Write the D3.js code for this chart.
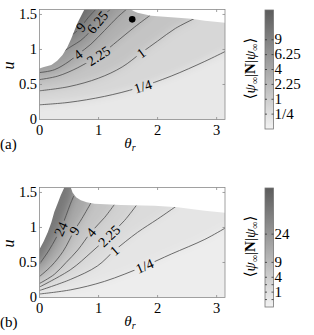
<!DOCTYPE html>
<html>
<head>
<meta charset="utf-8">
<script src="https://d3js.org/d3.v7.min.js"></script>
<style>
  body { margin: 0; background: #fff; }
</style>
</head>
<body>
<div id="chart"></div>
<script>
// axes ticks (shared)
const xTicks = [0, 1, 2, 3];
const yTicks = [0, 0.5, 1, 1.5];

// panel (a): contour levels and lines, points are [theta_r, u]
const levelsA = [0.25, 1, 2.25, 4, 6.25, 9];
const levelLabelsA = ["1/4", "1", "2.25", "4", "6.25", "9"];
const contoursA = [
  [[0, .21], [.5, .245], [1.1, .33], [1.66, .45], [2.23, .62], [2.8, .83], [3.1416, .97]],
  [[0, .41], [.5, .47], [1.0, .59], [1.4, .75], [1.72, .95], [2.0, 1.12], [2.3, 1.3], [2.62, 1.44]],
  [[0, .57], [.31, .62], [.65, .74], [.9, .86], [1.07, .95], [1.32, 1.12], [1.61, 1.32], [1.87, 1.485]],
  [[0, .67], [.25, .71], [.5, .83], [.65, .93], [.87, 1.075], [1.1, 1.27], [1.32, 1.46], [1.47, 1.571]],
  [[.42, .98], [.55, 1.05], [.70, 1.13], [.85, 1.25], [.98, 1.39], [1.1, 1.5], [1.2, 1.571]],
  [[.55, 1.21], [.63, 1.26], [.70, 1.32], [.82, 1.45], [.95, 1.571]]
];
const labelThetaA = [1.75, 1.72, 1.0, 0.65, 0.98, 0.70];
const domainA = [[0, 0], [0, .73], [.06, .745], [.2, .78], [.3, .84], [.39, .92], [.47, 1.03], [.54, 1.16],
  [.6, 1.29], [.65, 1.39], [.71, 1.49], [.76, 1.571], [1.55, 1.571], [1.6, 1.545], [1.66, 1.525],
  [1.89, 1.48], [2.23, 1.46], [2.57, 1.44], [2.8, 1.41], [3.1416, 1.38], [3.1416, 0]];
const dotA = [[1.57, 1.43]];
const cbMaxA = 16;
const cbTicksA = [0.25, 1, 2.25, 4, 6.25, 9];
const cbLabelsA = ["1/4", "1", "2.25", "4", "6.25", "9"];

// panel (b)
const levelsB = [0.25, 1, 2.25, 4, 9, 24];
const levelLabelsB = ["1/4", "1", "2.25", "4", "9", "24"];
const contoursB = [
  [[0, .05], [.53, .11], [1.1, .23], [1.78, .45], [2.23, .62], [2.8, .83], [3.1416, .99]],
  [[0, .10], [.53, .26], [.98, .45], [1.27, .67], [1.66, .93], [2.0, 1.12], [2.31, 1.30]],
  [[0, .15], [.53, .40], [.87, .64], [1.18, .88], [1.44, 1.10], [1.64, 1.315]],
  [[0, .20], [.25, .33], [.45, .50], [.65, .68], [.87, .93], [1.1, 1.14], [1.27, 1.33]],
  [[0, .30], [.2, .45], [.4, .66], [.59, .955], [.72, 1.13], [.87, 1.35]],
  [[0, .48], [.15, .66], [.28, .85], [.36, .98], [.45, 1.17], [.52, 1.33], [.58, 1.45]]
];
const labelThetaB = [1.78, 1.27, 1.18, 0.87, 0.59, 0.36];
const domainB = [[0, 0], [0, .69], [.07, .8], [.14, .93], [.2, 1.07], [.25, 1.22], [.31, 1.35], [.36, 1.46],
  [.42, 1.571], [.53, 1.571], [.56, 1.5], [.62, 1.43], [.70, 1.39], [.8, 1.36], [.93, 1.34], [1.38, 1.32],
  [1.95, 1.31], [2.34, 1.29], [2.8, 1.24], [3.1416, 1.21], [3.1416, 0]];
const cbMaxB = 64;
const cbTicksB = [0.25, 1, 2.25, 4, 9, 24];
const cbLabelsB = ["", "1", "", "4", "9", "24"];

const svg = d3.select("#chart").append("svg").attr("width", 314).attr("height", 335)
  .attr("font-family", "'Liberation Serif', 'Times New Roman', 'DejaVu Serif', serif");
const defs = svg.append("defs");

defs.append("filter").attr("id", "soft")
  .attr("filterUnits", "userSpaceOnUse")
  .attr("x", -60).attr("y", -60).attr("width", 440).attr("height", 460)
  .append("feGaussianBlur").attr("stdDeviation", 4.5);

function panel(cfg) {
  const top = cfg.top, bottom = top + 110;
  const x = d3.scaleLinear().domain([0, Math.PI]).range([39.5, 225]);
  const y = d3.scaleLinear().domain([0, Math.PI / 2]).range([bottom, top]);
  const sMax = Math.sqrt(cfg.cbMax);
  const gray = d3.scaleLinear().domain([0, sMax]).range(["#f3f3f3", "#5c5c5c"]);
  const curve = d3.line().x(d => x(d[0])).y(d => y(d[1])).curve(d3.curveCatmullRom);
  const g = svg.append("g");

  // clip to the domain where the quantity is defined
  const clipId = "clip" + cfg.id;
  defs.append("clipPath").attr("id", clipId)
    .append("path").attr("d", d3.line().x(d => x(d[0])).y(d => y(d[1]))(cfg.domain) + "Z");

  // filled bands, blurred for the smooth shading
  const sLev = cfg.levels.map(Math.sqrt);
  const bandMid = [sLev[0] * 0.6].concat(sLev.map((s, i) => (s + (i + 1 < sLev.length ? sLev[i + 1] : sMax)) / 2));
  const shade = g.append("g").attr("filter", "url(#soft)").attr("clip-path", "url(#" + clipId + ")");
  shade.append("rect").attr("x", 0).attr("y", top - 60).attr("width", 314).attr("height", 200)
    .attr("fill", gray(bandMid[0]));
  cfg.contours.forEach((pts, i) => {
    const last = pts[pts.length - 1];
    let d = curve(pts);
    if (last[0] >= Math.PI - 0.01) {
      d += `L${x(Math.PI) + 60},${y(last[1])}L${x(Math.PI) + 60},${top - 60}`;
    } else {
      d += `L${x(last[0])},${top - 60}`;
    }
    d += `L-60,${top - 60}L-60,${y(pts[0][1])}Z`;
    shade.append("path").attr("d", d).attr("fill", gray(bandMid[i + 1]));
  });

  // label gaps in lines
  const maskId = "mask" + cfg.id;
  const mask = defs.append("mask").attr("id", maskId).attr("maskUnits", "userSpaceOnUse")
    .attr("x", 0).attr("y", 0).attr("width", 314).attr("height", 335);
  mask.append("rect").attr("width", 314).attr("height", 335).attr("fill", "#fff");

  const lines = g.append("g").attr("clip-path", "url(#" + clipId + ")")
    .append("g").attr("mask", "url(#" + maskId + ")");
  const labels = g.append("g");
  cfg.contours.forEach((pts, i) => {
    const path = lines.append("path").attr("d", curve(pts))
      .attr("fill", "none").attr("stroke", "#4a4a4a").attr("stroke-width", 0.8);
    const node = path.node();
    const L = node.getTotalLength();
    const px = x(cfg.labelTheta[i]);
    let lo = 0, hi = L;
    for (let k = 0; k < 40; k++) {
      const m = (lo + hi) / 2;
      if (node.getPointAtLength(m).x < px) lo = m; else hi = m;
    }
    const p = node.getPointAtLength(lo);
    const p1 = node.getPointAtLength(Math.max(0, lo - 4));
    const p2 = node.getPointAtLength(Math.min(L, lo + 4));
    const ang = Math.atan2(p2.y - p1.y, p2.x - p1.x) * 180 / Math.PI;
    const tr = `translate(${p.x},${p.y}) rotate(${ang})`;
    const t = labels.append("text").attr("transform", tr)
      .attr("text-anchor", "middle").attr("dy", "0.35em")
      .attr("font-size", 14).text(cfg.levelLabels[i]);
    const w = t.node().getComputedTextLength();
    mask.append("rect").attr("transform", tr)
      .attr("x", -w / 2 - 2).attr("y", -6).attr("width", w + 4).attr("height", 12).attr("fill", "#000");
  });

  // marker
  if (cfg.dot) {
    g.selectAll(null).data(cfg.dot).enter().append("circle")
      .attr("cx", d => x(d[0])).attr("cy", d => y(d[1])).attr("r", 3.3).attr("fill", "#000");
  }

  // box and ticks
  g.append("rect").attr("x", 39.5).attr("y", top).attr("width", 225 - 39.5).attr("height", 110)
    .attr("fill", "none").attr("stroke", "#8a8a8a").attr("stroke-width", 0.8);
  xTicks.slice(1).forEach(v => {
    g.append("line").attr("x1", x(v)).attr("x2", x(v)).attr("y1", bottom).attr("y2", bottom - 2.5)
      .attr("stroke", "#8a8a8a").attr("stroke-width", 0.8);
    g.append("line").attr("x1", x(v)).attr("x2", x(v)).attr("y1", top).attr("y2", top + 2.5)
      .attr("stroke", "#8a8a8a").attr("stroke-width", 0.8);
  });
  yTicks.slice(1).forEach(v => {
    g.append("line").attr("x1", 39.5).attr("x2", 42).attr("y1", y(v)).attr("y2", y(v))
      .attr("stroke", "#8a8a8a").attr("stroke-width", 0.8);
    g.append("line").attr("x1", 225).attr("x2", 222.5).attr("y1", y(v)).attr("y2", y(v))
      .attr("stroke", "#8a8a8a").attr("stroke-width", 0.8);
  });
  g.selectAll(null).data(xTicks).enter().append("text")
    .attr("x", d => x(d)).attr("y", bottom + 15).attr("text-anchor", "middle")
    .attr("font-size", 14.5).text(d => d);
  g.selectAll(null).data(yTicks).enter().append("text")
    .attr("x", 37).attr("y", d => y(d) + 4.5).attr("text-anchor", "end")
    .attr("font-size", 14.5).text(d => d);

  // axis labels
  const xl = g.append("text").attr("x", 130).attr("y", bottom + 28).attr("text-anchor", "middle").attr("font-size", 15);
  xl.append("tspan").attr("font-style", "italic").text("θ");
  xl.append("tspan").attr("font-style", "italic").attr("font-size", 10).attr("dy", 3).text("r");
  g.append("text").attr("transform", `translate(14,${top + 56}) rotate(-90)`)
    .attr("text-anchor", "middle").attr("font-style", "italic").attr("font-size", 16).text("u");
  g.append("text").attr("x", 0).attr("y", bottom + 29.5).attr("font-size", 15).text(cfg.tag);

  // colorbar
  const cbTop = top + 0.5, cbBot = top + 119.5;
  const cy = d3.scaleSqrt().domain([0, cfg.cbMax]).range([cbBot, cbTop]);
  const gradId = "grad" + cfg.id;
  const grad = defs.append("linearGradient").attr("id", gradId)
    .attr("x1", 0).attr("x2", 0).attr("y1", 1).attr("y2", 0);
  grad.append("stop").attr("offset", 0).attr("stop-color", gray(0));
  grad.append("stop").attr("offset", 1).attr("stop-color", gray(sMax));
  g.append("rect").attr("x", 265).attr("y", cbTop).attr("width", 8.5).attr("height", cbBot - cbTop)
    .attr("fill", `url(#${gradId})`).attr("stroke", "#777").attr("stroke-width", 0.8);
  cfg.cbTicks.forEach((v, i) => {
    g.append("line").attr("x1", 265).attr("x2", 267).attr("y1", cy(v)).attr("y2", cy(v))
      .attr("stroke", "#333").attr("stroke-width", 0.8);
    g.append("line").attr("x1", 273.5).attr("x2", 271.5).attr("y1", cy(v)).attr("y2", cy(v))
      .attr("stroke", "#333").attr("stroke-width", 0.8);
    if (cfg.cbLabels[i]) {
      g.append("text").attr("x", 274.5).attr("y", cy(v) + 4.5).attr("font-size", 15).text(cfg.cbLabels[i]);
    }
  });
  const cl = g.append("text").attr("transform", `translate(254.5,${top + 59}) rotate(-90)`)
    .attr("text-anchor", "middle").attr("font-size", 15);
  cl.append("tspan").text("⟨");
  cl.append("tspan").attr("font-style", "italic").text("ψ");
  cl.append("tspan").attr("font-size", 10).attr("dy", 3).text("∞");
  cl.append("tspan").attr("dy", -3).text("|");
  cl.append("tspan").attr("font-weight", "bold").text("N");
  cl.append("tspan").text("|");
  cl.append("tspan").attr("font-style", "italic").text("ψ");
  cl.append("tspan").attr("font-size", 10).attr("dy", 3).text("∞");
  cl.append("tspan").attr("dy", -3).text("⟩");
}

panel({ id: "A", top: 9.5, tag: "(a)", levels: levelsA, levelLabels: levelLabelsA, contours: contoursA,
  labelTheta: labelThetaA, domain: domainA, dot: dotA, cbMax: cbMaxA, cbTicks: cbTicksA, cbLabels: cbLabelsA });
panel({ id: "B", top: 187.5, tag: "(b)", levels: levelsB, levelLabels: levelLabelsB, contours: contoursB,
  labelTheta: labelThetaB, domain: domainB, dot: null, cbMax: cbMaxB, cbTicks: cbTicksB, cbLabels: cbLabelsB });
</script>
</body>
</html>
